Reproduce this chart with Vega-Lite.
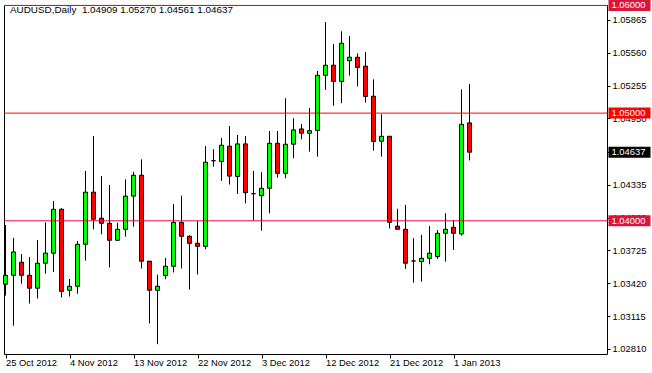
{
  "$schema": "https://vega.github.io/schema/vega-lite/v6.json",
  "width": 603,
  "height": 349,
  "autosize": {"type": "none"},
  "padding": {"left": 4, "top": 5, "right": 45, "bottom": 19},
  "background": "#ffffff",
  "title": {
    "text": "AUDUSD,Daily\u00a0 1.04909 1.05270 1.04561 1.04637",
    "anchor": "start",
    "frame": "group",
    "orient": "top",
    "baseline": "top",
    "offset": -15,
    "dx": 6,
    "font": "Liberation Sans",
    "fontSize": 9.9,
    "fontWeight": "normal",
    "color": "#000000"
  },
  "config": {
    "view": {"stroke": "#000000", "strokeWidth": 1},
    "axis": {"labelFont": "Liberation Sans", "labelFontSize": 9.4, "labelColor": "#000000", "tickColor": "#000000", "grid": false, "domain": false, "title": null, "labelOverlap": false}
  },
  "datasets": {
    "bars": [
      {"i": 0, "date": "2012-10-25", "o": 1.03411, "h": 1.03961, "l": 1.03305, "c": 1.03494},
      {"i": 1, "date": "2012-10-26", "o": 1.03494, "h": 1.03841, "l": 1.03026, "c": 1.03711},
      {"i": 2, "date": "2012-10-28", "o": 1.03615, "h": 1.03692, "l": 1.03416, "c": 1.03494},
      {"i": 3, "date": "2012-10-29", "o": 1.03494, "h": 1.03664, "l": 1.03231, "c": 1.03374},
      {"i": 4, "date": "2012-10-30", "o": 1.03374, "h": 1.03822, "l": 1.03279, "c": 1.03606},
      {"i": 5, "date": "2012-10-31", "o": 1.03606, "h": 1.03985, "l": 1.03509, "c": 1.037},
      {"i": 6, "date": "2012-11-01", "o": 1.03699, "h": 1.04184, "l": 1.03525, "c": 1.04107},
      {"i": 7, "date": "2012-11-02", "o": 1.04107, "h": 1.04116, "l": 1.03288, "c": 1.03344},
      {"i": 8, "date": "2012-11-04", "o": 1.03355, "h": 1.0346, "l": 1.03296, "c": 1.03392},
      {"i": 9, "date": "2012-11-05", "o": 1.03392, "h": 1.03813, "l": 1.03323, "c": 1.03782},
      {"i": 10, "date": "2012-11-06", "o": 1.03782, "h": 1.04463, "l": 1.0363, "c": 1.04266},
      {"i": 11, "date": "2012-11-07", "o": 1.04266, "h": 1.04788, "l": 1.0392, "c": 1.04014},
      {"i": 12, "date": "2012-11-08", "o": 1.04024, "h": 1.04416, "l": 1.03875, "c": 1.03977},
      {"i": 13, "date": "2012-11-09", "o": 1.03977, "h": 1.04333, "l": 1.03567, "c": 1.03819},
      {"i": 14, "date": "2012-11-11", "o": 1.03819, "h": 1.03982, "l": 1.03817, "c": 1.03921},
      {"i": 15, "date": "2012-11-12", "o": 1.03921, "h": 1.04386, "l": 1.03853, "c": 1.04229},
      {"i": 16, "date": "2012-11-13", "o": 1.04229, "h": 1.04456, "l": 1.03946, "c": 1.04423},
      {"i": 17, "date": "2012-11-14", "o": 1.04423, "h": 1.04571, "l": 1.03557, "c": 1.03625},
      {"i": 18, "date": "2012-11-15", "o": 1.03625, "h": 1.03625, "l": 1.03047, "c": 1.03355},
      {"i": 19, "date": "2012-11-16", "o": 1.03355, "h": 1.035, "l": 1.02854, "c": 1.03392},
      {"i": 20, "date": "2012-11-18", "o": 1.03492, "h": 1.03655, "l": 1.03458, "c": 1.03578},
      {"i": 21, "date": "2012-11-19", "o": 1.03578, "h": 1.04155, "l": 1.0352, "c": 1.03985},
      {"i": 22, "date": "2012-11-20", "o": 1.03985, "h": 1.04233, "l": 1.03557, "c": 1.03856},
      {"i": 23, "date": "2012-11-21", "o": 1.03856, "h": 1.03866, "l": 1.03362, "c": 1.03791},
      {"i": 24, "date": "2012-11-22", "o": 1.03791, "h": 1.03997, "l": 1.03502, "c": 1.03763},
      {"i": 25, "date": "2012-11-23", "o": 1.03763, "h": 1.04695, "l": 1.03736, "c": 1.04544},
      {"i": 26, "date": "2012-11-26", "o": 1.04558, "h": 1.04664, "l": 1.04503, "c": 1.04558},
      {"i": 27, "date": "2012-11-27", "o": 1.04551, "h": 1.04769, "l": 1.0437, "c": 1.04702},
      {"i": 28, "date": "2012-11-28", "o": 1.04693, "h": 1.04881, "l": 1.04336, "c": 1.04415},
      {"i": 29, "date": "2012-11-29", "o": 1.04412, "h": 1.04797, "l": 1.04249, "c": 1.04714},
      {"i": 30, "date": "2012-11-30", "o": 1.04714, "h": 1.04788, "l": 1.04163, "c": 1.04261},
      {"i": 31, "date": "2012-12-02", "o": 1.04252, "h": 1.04463, "l": 1.04001, "c": 1.04252},
      {"i": 32, "date": "2012-12-03", "o": 1.04233, "h": 1.04451, "l": 1.03908, "c": 1.04302},
      {"i": 33, "date": "2012-12-04", "o": 1.04302, "h": 1.04834, "l": 1.0407, "c": 1.0472},
      {"i": 34, "date": "2012-12-05", "o": 1.0472, "h": 1.04834, "l": 1.04401, "c": 1.04441},
      {"i": 35, "date": "2012-12-06", "o": 1.04441, "h": 1.05138, "l": 1.04395, "c": 1.04711},
      {"i": 36, "date": "2012-12-07", "o": 1.04711, "h": 1.04952, "l": 1.04581, "c": 1.04844},
      {"i": 37, "date": "2012-12-09", "o": 1.04853, "h": 1.04899, "l": 1.04757, "c": 1.04813},
      {"i": 38, "date": "2012-12-10", "o": 1.04813, "h": 1.05048, "l": 1.04642, "c": 1.04837},
      {"i": 39, "date": "2012-12-11", "o": 1.04839, "h": 1.05391, "l": 1.04596, "c": 1.05351},
      {"i": 40, "date": "2012-12-12", "o": 1.05351, "h": 1.05846, "l": 1.05215, "c": 1.05445},
      {"i": 41, "date": "2012-12-13", "o": 1.05445, "h": 1.05642, "l": 1.05069, "c": 1.05294},
      {"i": 42, "date": "2012-12-14", "o": 1.05294, "h": 1.0576, "l": 1.05092, "c": 1.05649},
      {"i": 43, "date": "2012-12-16", "o": 1.05487, "h": 1.05716, "l": 1.05348, "c": 1.05519},
      {"i": 44, "date": "2012-12-17", "o": 1.05519, "h": 1.05554, "l": 1.05248, "c": 1.05424},
      {"i": 45, "date": "2012-12-18", "o": 1.05436, "h": 1.05568, "l": 1.05097, "c": 1.05155},
      {"i": 46, "date": "2012-12-19", "o": 1.05157, "h": 1.05314, "l": 1.04651, "c": 1.04737},
      {"i": 47, "date": "2012-12-20", "o": 1.04739, "h": 1.04989, "l": 1.04596, "c": 1.04785},
      {"i": 48, "date": "2012-12-21", "o": 1.04785, "h": 1.04785, "l": 1.03929, "c": 1.03986},
      {"i": 49, "date": "2012-12-23", "o": 1.0395, "h": 1.04112, "l": 1.0392, "c": 1.03921},
      {"i": 50, "date": "2012-12-24", "o": 1.03921, "h": 1.04147, "l": 1.03553, "c": 1.03606},
      {"i": 51, "date": "2012-12-26", "o": 1.03627, "h": 1.03838, "l": 1.03426, "c": 1.03627},
      {"i": 52, "date": "2012-12-27", "o": 1.03621, "h": 1.03869, "l": 1.03435, "c": 1.03652},
      {"i": 53, "date": "2012-12-28", "o": 1.03652, "h": 1.03952, "l": 1.03596, "c": 1.03699},
      {"i": 54, "date": "2012-12-30", "o": 1.03667, "h": 1.03915, "l": 1.03646, "c": 1.03884},
      {"i": 55, "date": "2012-12-31", "o": 1.03884, "h": 1.0407, "l": 1.03621, "c": 1.03921},
      {"i": 56, "date": "2013-01-01", "o": 1.0394, "h": 1.04008, "l": 1.03729, "c": 1.03884},
      {"i": 57, "date": "2013-01-02", "o": 1.03878, "h": 1.05221, "l": 1.03862, "c": 1.04896},
      {"i": 58, "date": "2013-01-03", "o": 1.04909, "h": 1.0527, "l": 1.04561, "c": 1.04637}
    ],
    "levels": [
      {"p": 1.06, "lab": "1.06000", "kind": "line"},
      {"p": 1.05, "lab": "1.05000", "kind": "line"},
      {"p": 1.04, "lab": "1.04000", "kind": "line"},
      {"p": 1.04637, "lab": "1.04637", "kind": "bid"}
    ]
  },
  "layer": [
    {
      "data": {"name": "bars"},
      "mark": {"type": "rule", "strokeWidth": 1, "color": "#000000"},
      "encoding": {
        "x": {"field": "i", "type": "quantitative", "scale": {"domain": [-0.1875, 75.1875], "nice": false, "zero": false, "padding": 0},
          "axis": {"values": [0, 8, 16, 24, 32, 40, 48, 56], "tickCount": 30, "labelExpr": "['25 Oct 2012','4 Nov 2012','13 Nov 2012','22 Nov 2012','3 Dec 2012','12 Dec 2012','21 Dec 2012','1 Jan 2013'][round(datum.value/8)]", "labelAlign": "left", "labelBaseline": "top", "tickSize": 4, "labelPadding": 0, "labelOverlap": false, "labelFlush": false}},
        "y": {"field": "l", "type": "quantitative", "scale": {"domain": [1.02763, 1.06004], "nice": false, "zero": false, "padding": 0},
          "axis": {"orient": "right", "values": [1.0281, 1.03115, 1.0342, 1.03725, 1.0403, 1.04335, 1.0464, 1.0495, 1.05255, 1.0556, 1.05865], "tickCount": 30, "format": ".5f", "tickSize": 3, "labelPadding": 2, "labelAlign": "left", "labelBaseline": "middle", "labelOverlap": false, "labelFlush": false}},
        "y2": {"field": "h"}
      }
    },
    {
      "data": {"name": "bars"},
      "mark": {"type": "bar", "size": 4, "stroke": "#000000", "strokeWidth": 1},
      "encoding": {
        "x": {"field": "i", "type": "quantitative"},
        "y": {"field": "o", "type": "quantitative"},
        "y2": {"field": "c"},
        "color": {"condition": {"test": "datum.c >= datum.o", "value": "#00ff00"}, "value": "#ff0000"}
      }
    },
    {
      "data": {"name": "levels"},
      "transform": [{"filter": "datum.kind == 'line'"}],
      "mark": {"type": "rule", "strokeWidth": 1},
      "encoding": {
        "y": {"field": "p", "type": "quantitative"},
        "color": {"field": "lab", "type": "nominal", "scale": {"domain": ["1.06000", "1.05000", "1.04000", "1.04637"], "range": ["#dc143c", "#ff0000", "#dc143c", "#000000"]}, "legend": null}
      }
    },
    {
      "data": {"name": "levels"},
      "mark": {"type": "bar", "size": 11, "clip": false},
      "encoding": {
        "x": {"datum": 75.375, "type": "quantitative"},
        "x2": {"datum": 80.625},
        "y": {"field": "p", "type": "quantitative"},
        "color": {"field": "lab", "type": "nominal", "legend": null}
      }
    },
    {
      "data": {"name": "levels"},
      "mark": {"type": "text", "align": "left", "baseline": "middle", "color": "#ffffff", "font": "Liberation Sans", "fontSize": 9.4, "clip": false},
      "encoding": {
        "x": {"datum": 75.75, "type": "quantitative"},
        "y": {"field": "p", "type": "quantitative"},
        "text": {"field": "lab"}
      }
    }
  ]
}
